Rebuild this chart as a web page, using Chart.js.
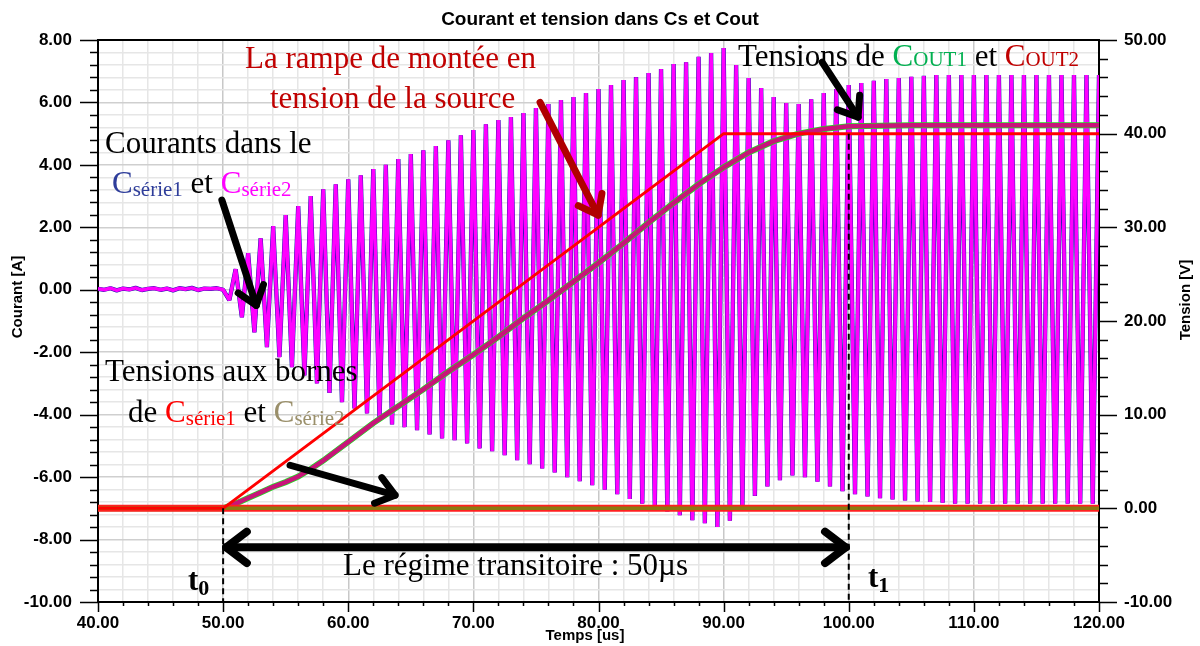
<!DOCTYPE html>
<html lang="fr">
<head>
<meta charset="utf-8">
<title>Courant et tension dans Cs et Cout</title>
<script src="https://cdn.jsdelivr.net/npm/chart.js@4.4.1/dist/chart.umd.min.js"></script>
<style>
  body { margin: 0; background: #fff; }
  #wrap { position: relative; width: 1200px; height: 646px; }
  .note { position: absolute; font-family: "Liberation Serif", "Times New Roman", serif; font-size: 31px; line-height: 31px; white-space: nowrap; color: #000; }
  .sub { font-size: 21px; position: relative; top: 3px; }
  .sc { font-size: 21px; }
  .tt { font-weight: bold; }
  .tt .sub { font-size: 22px; top: 5px; }
</style>
</head>
<body>
<div id="wrap">
  <canvas id="myChart" width="1200" height="646"></canvas>

  <div class="note" style="left:245px;top:42px;color:#c00000">La rampe de montée en</div>
  <div class="note" style="left:270px;top:82px;color:#c00000">tension de la source</div>

  <div class="note" style="left:105px;top:127px">Courants dans le</div>
  <div class="note" style="left:112px;top:167px"><span style="color:#2e3d9a">C<span class="sub">série1</span></span> et <span style="color:#ff00ff">C<span class="sub">série2</span></span></div>

  <div class="note" style="left:738px;top:40px">Tensions de <span style="color:#00b050">C<span class="sc">OUT1</span></span> et <span style="color:#c00000">C<span class="sc">OUT2</span></span></div>

  <div class="note" style="left:105px;top:355px">Tensions aux bornes</div>
  <div class="note" style="left:128px;top:396px">de <span style="color:#ff0000">C<span class="sub">série1</span></span> et <span style="color:#9a8f6a">C<span class="sub">série2</span></span></div>

  <div class="note" style="left:343px;top:549px">Le régime transitoire : 50µs</div>

  <div class="note tt" style="left:188px;top:564px">t<span class="sub">0</span></div>
  <div class="note tt" style="left:868px;top:561px">t<span class="sub">1</span></div>
</div>

<script>
// courant au repos, t = 40 .. 50 us par pas de 0.5 us
const idleCurrent = [0.03, 0.0, 0.05, -0.02, 0.04, 0.01, 0.06, -0.01, 0.03, 0.05, 0.0,
                     0.04, -0.02, 0.05, 0.02, 0.06, -0.01, 0.04, 0.03, 0.05, 0.0];
// creux du courant, t = 50.5, 51.5 ... 119.5 us
const lowerPeaks = [-0.33, -0.88, -1.36, -1.84, -2.16, -2.48, -2.74, -3.0, -3.3, -3.6,
                    -3.8, -3.96, -4.18, -4.31, -4.4, -4.5, -4.63, -4.76, -4.82, -4.92,
                    -5.08, -5.17, -5.3, -5.46, -5.59, -5.72, -5.85, -6.0, -6.13, -6.26,
                    -6.4, -6.55, -6.7, -6.85, -6.94, -7.1, -7.22, -7.38, -7.48, -7.6,
                    -7.4, -6.94, -6.6, -6.3, -6.1, -5.95, -6.0, -6.15, -6.3, -6.45,
                    -6.55, -6.62, -6.68, -6.72, -6.75, -6.78, -6.8, -6.82, -6.85, -6.85,
                    -6.85, -6.85, -6.85, -6.85, -6.85, -6.85, -6.85, -6.85, -6.85, -6.85];
// crêtes du courant, t = 51, 52 ... 120 us
const upperPeaks = [0.66, 1.17, 1.65, 2.04, 2.39, 2.68, 3.0, 3.22, 3.38, 3.54,
                    3.67, 3.87, 4.0, 4.19, 4.35, 4.47, 4.6, 4.79, 4.95, 5.12,
                    5.3, 5.44, 5.53, 5.66, 5.82, 5.95, 6.08, 6.17, 6.3, 6.43,
                    6.56, 6.72, 6.81, 6.94, 7.07, 7.23, 7.29, 7.46, 7.58, 7.74,
                    7.2, 6.78, 6.46, 6.17, 5.98, 5.95, 6.1, 6.3, 6.43, 6.56,
                    6.62, 6.69, 6.75, 6.78, 6.82, 6.85, 6.88, 6.88, 6.88, 6.88,
                    6.88, 6.88, 6.88, 6.88, 6.88, 6.88, 6.88, 6.88, 6.88, 6.88];

// rampe de tension de la source
const rampTimes = [40, 50, 90, 120];
const rampVolts = [0, 0, 40, 40];

// tensions Cout1 / Cout2
const coutTimes = [40, 50, 51, 52, 53, 54, 55, 56, 57, 58, 60, 62, 64, 66, 68, 70, 72, 74, 76,
                   78, 80, 82, 84, 86, 88, 90, 92, 94, 96, 98, 100, 105, 120];
const coutVolts = [0, 0, 0.5, 1.1, 1.7, 2.3, 2.8, 3.4, 4.2, 5.1, 7.1, 9.1, 10.9, 12.7, 14.6, 16.4, 18.3, 20.3, 22.2,
                   24.2, 26.2, 28.3, 30.5, 32.6, 34.6, 36.4, 38.0, 39.2, 40.0, 40.5, 40.8, 40.9, 40.9];

// tensions aux bornes de Cserie1 / Cserie2
const serieTimes = [40, 120];
const serieVolts = [0, 0];

// axes
const xMin = 40, xMax = 120;
const courantMin = -10, courantMax = 8;
const tensionMin = -10, tensionMax = 50;

function pairs(xs, ys) {
    return xs.map((x, i) => ({ x: x, y: ys[i] }));
}

// courant : repos puis oscillation (periode 1 us)
let currentPts = idleCurrent.map((v, i) => ({ x: 40 + i * 0.5, y: v }));
for (let k = 0; k < upperPeaks.length; k++) {
    currentPts.push({ x: 50.5 + k, y: lowerPeaks[k] });
    currentPts.push({ x: 51 + k, y: upperPeaks[k] });
}

const isMult = (v, m) => Math.abs(Math.round(v / m) * m - v) < 1e-6;
const tickFont = { family: '"Liberation Sans", Arial, sans-serif', size: 17, weight: 'bold' };

// fleches d'annotation (en unites de donnees : us, A)
const arrows = [
    { from: [49.9, 2.87], to: [52.65, -0.5], color: '#000', width: 7 },
    { from: [75.33, 6.0], to: [79.97, 2.39], color: '#b00000', width: 7 },
    { from: [97.87, 7.29], to: [100.75, 5.53], color: '#000', width: 7 },
    { from: [55.35, -5.62], to: [63.74, -6.58], color: '#000', width: 7 }
];

function drawHead(c, x1, y1, x2, y2, len) {
    const a = Math.atan2(y2 - y1, x2 - x1);
    const s = 0.65;
    c.beginPath();
    c.moveTo(x2 - len * Math.cos(a - s), y2 - len * Math.sin(a - s));
    c.lineTo(x2, y2);
    c.lineTo(x2 - len * Math.cos(a + s), y2 - len * Math.sin(a + s));
    c.stroke();
}

const decorPlugin = {
    id: 'decor',
    afterDraw(chart) {
        const c = chart.ctx;
        const area = chart.chartArea;
        const sx = chart.scales.x, sy = chart.scales.y, sy2 = chart.scales.y2;
        c.save();

        // bord haut du cadre
        c.strokeStyle = '#000';
        c.lineWidth = 2;
        c.beginPath();
        c.moveTo(area.left - 1, area.top);
        c.lineTo(area.right + 1, area.top);
        c.stroke();

        // graduations
        c.lineWidth = 1.5;
        c.beginPath();
        sx.ticks.forEach(t => {
            const px = Math.round(sx.getPixelForValue(t.value)) + 0.5;
            const len = isMult(t.value, 10) ? 10 : 4;
            c.moveTo(px, area.bottom);
            c.lineTo(px, area.bottom + len);
        });
        sy.ticks.forEach(t => {
            const py = Math.round(sy.getPixelForValue(t.value)) + 0.5;
            const len = isMult(t.value, 2) ? 18 : 8;
            c.moveTo(area.left - len, py);
            c.lineTo(area.left, py);
        });
        sy2.ticks.forEach(t => {
            const py = Math.round(sy2.getPixelForValue(t.value)) + 0.5;
            const len = isMult(t.value, 10) ? 18 : 9;
            c.moveTo(area.right, py);
            c.lineTo(area.right + len, py);
        });
        c.stroke();

        // titres
        c.fillStyle = '#000';
        c.textAlign = 'center';
        c.textBaseline = 'middle';
        c.font = 'bold 19px "Liberation Sans", Arial, sans-serif';
        c.fillText('Courant et tension dans Cs et Cout', 600, 20);
        c.font = 'bold 15px "Liberation Sans", Arial, sans-serif';
        c.fillText('Temps [us]', 585, 636);
        c.save();
        c.translate(18, 297);
        c.rotate(-Math.PI / 2);
        c.fillText('Courant [A]', 0, 0);
        c.restore();
        c.save();
        c.translate(1186, 300);
        c.rotate(-Math.PI / 2);
        c.fillText('Tension [V]', 0, 0);
        c.restore();

        // lignes pointillees t0 / t1
        c.strokeStyle = '#000';
        c.lineWidth = 2;
        c.setLineDash([6, 4]);
        c.beginPath();
        const x0 = sx.getPixelForValue(50), x1 = sx.getPixelForValue(100);
        c.moveTo(x0, sy2.getPixelForValue(0));
        c.lineTo(x0, area.bottom);
        c.moveTo(x1, sy2.getPixelForValue(40));
        c.lineTo(x1, area.bottom);
        c.stroke();
        c.setLineDash([]);

        // fleches
        c.lineCap = 'round';
        c.lineJoin = 'round';
        arrows.forEach(a => {
            const ax = sx.getPixelForValue(a.from[0]), ay = sy.getPixelForValue(a.from[1]);
            const bx = sx.getPixelForValue(a.to[0]), by = sy.getPixelForValue(a.to[1]);
            c.strokeStyle = a.color;
            c.lineWidth = a.width;
            c.beginPath();
            c.moveTo(ax, ay);
            c.lineTo(bx, by);
            c.stroke();
            drawHead(c, ax, ay, bx, by, 22);
        });

        // double fleche du regime transitoire
        const ya = sy.getPixelForValue(-8.25);
        c.strokeStyle = '#000';
        c.lineWidth = 8;
        c.beginPath();
        c.moveTo(x0 + 3, ya);
        c.lineTo(x1 - 3, ya);
        c.stroke();
        drawHead(c, x1, ya, x0 + 3, ya, 26);
        drawHead(c, x0, ya, x1 - 3, ya, 26);

        c.restore();
    }
};

const ctx = document.getElementById('myChart').getContext('2d');
const mychart = new Chart(ctx, {
    type: 'line',
    data: {
        datasets: [
            { label: 'Source', data: pairs(rampTimes, rampVolts), yAxisID: 'y2',
              borderColor: '#ff0000', borderWidth: 3, order: 0 },
            { label: 'V Cserie2', data: pairs(serieTimes, serieVolts), yAxisID: 'y2',
              borderColor: '#8a7a10', borderWidth: 3.5, order: 1 },
            { label: 'V Cserie1', data: pairs(serieTimes, serieVolts), yAxisID: 'y2',
              borderColor: '#ff2020', borderWidth: 7, order: 2 },
            { label: 'V Cout2', data: pairs(coutTimes, coutVolts), yAxisID: 'y2',
              borderColor: '#c8147a', borderWidth: 4.5, order: 3 },
            { label: 'V Cout1', data: pairs(coutTimes, coutVolts), yAxisID: 'y2',
              borderColor: '#22dd22', borderWidth: 6, order: 4 },
            { label: 'I Cserie2', data: currentPts, yAxisID: 'y',
              borderColor: '#ff00ff', borderWidth: 3.5, borderJoinStyle: 'bevel', order: 5 },
            { label: 'I Cserie1', data: currentPts, yAxisID: 'y',
              borderColor: '#1010a8', borderWidth: 4.3, borderJoinStyle: 'bevel', order: 6 }
        ]
    },
    options: {
        responsive: false,
        animation: false,
        devicePixelRatio: 1,
        parsing: false,
        elements: { point: { radius: 0 }, line: { tension: 0, fill: false } },
        layout: { padding: { top: 40, left: 0, right: 0, bottom: 0 } },
        plugins: { legend: { display: false }, tooltip: { enabled: false }, title: { display: false } },
        scales: {
            x: {
                type: 'linear', position: 'bottom', min: xMin, max: xMax,
                afterFit: s => { s.height = 44; },
                border: { color: '#000', width: 2 },
                grid: {
                    color: t => isMult(t.tick.value, 10) ? '#c8c8c8' : '#e6e6e6',
                    lineWidth: 1.5, tickLength: 10, tickColor: 'transparent'
                },
                ticks: {
                    stepSize: 2, autoSkip: false, maxRotation: 0, padding: 1,
                    color: '#000', font: tickFont,
                    callback: v => isMult(v, 10) ? v.toFixed(2) : ''
                }
            },
            y: {
                type: 'linear', position: 'left', min: courantMin, max: courantMax,
                afterFit: s => { s.width = 98; },
                border: { color: '#000', width: 2 },
                grid: {
                    color: t => isMult(t.tick.value, 2) ? '#cfcfcf' : '#e6e6e6',
                    lineWidth: 1.5, tickLength: 18, tickColor: 'transparent'
                },
                ticks: {
                    stepSize: 0.4, autoSkip: false, padding: 8,
                    color: '#000', font: tickFont,
                    callback: v => isMult(v, 2) ? v.toFixed(2) : ''
                }
            },
            y2: {
                type: 'linear', position: 'right', min: tensionMin, max: tensionMax,
                afterFit: s => { s.width = 101; },
                border: { color: '#000', width: 2 },
                grid: { drawOnChartArea: false, tickLength: 18, tickColor: 'transparent' },
                ticks: {
                    stepSize: 2, autoSkip: false, padding: 7,
                    color: '#000', font: tickFont,
                    callback: v => isMult(v, 10) ? v.toFixed(2) : ''
                }
            }
        }
    },
    plugins: [decorPlugin]
});
</script>
</body>
</html>
